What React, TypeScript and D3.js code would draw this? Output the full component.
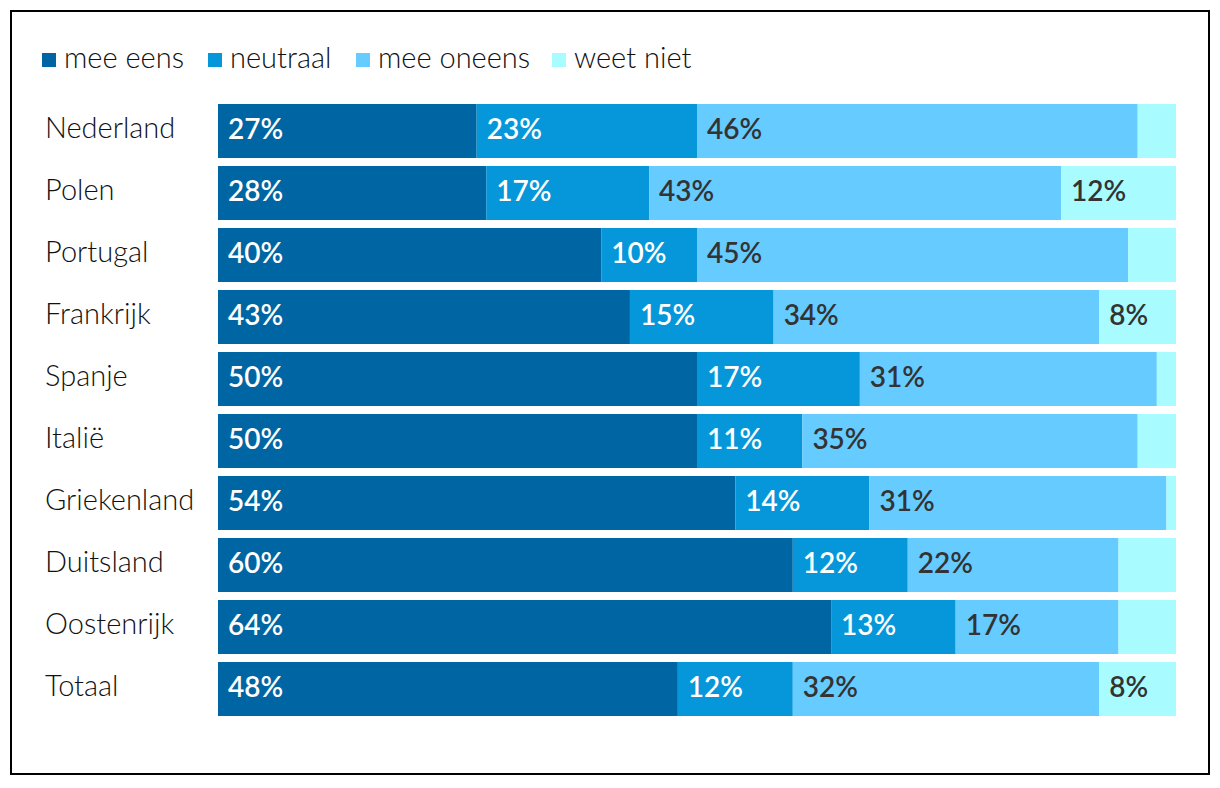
import React from "react";
import * as d3 from "d3";

const countries = ["Nederland","Polen","Portugal","Frankrijk","Spanje","Italië","Griekenland","Duitsland","Oostenrijk","Totaal"];
const meeEens = [27,28,40,43,50,50,54,60,64,48];
const neutraal = [23,17,10,15,17,11,14,12,13,12];
const meeOneens = [46,43,45,34,31,35,31,22,17,32];
const weetNiet = [4,12,5,8,2,4,1,6,6,8];
const seriesNames = ["mee eens","neutraal","mee oneens","weet niet"];
const colors = ["#0066a3","#0597d9","#66cbff","#a8fcff"];
const textColors = ["#ffffff","#ffffff","#333333","#333333"];

export default function App() {
  const W = 1220, H = 788;
  const x = d3.scaleLinear().domain([0, 100]).range([218, 1176]);
  const y = d3.scaleBand().domain(countries).range([104 - 4, 104 - 4 + 62 * countries.length]).paddingInner(8 / 62).paddingOuter(4 / 62);
  const seriesData = [meeEens, neutraal, meeOneens, weetNiet];
  const rows = countries.map((c, i) => ({ c, vals: seriesData.map(s => s[i]) }));
  const stack = d3.stack<any>().keys([0,1,2,3].map(String)).value((d: any, k: string) => d.vals[+k]);
  const stacked = stack(rows as any);
  const font = "Lato, 'Open Sans', sans-serif";
  const legendX = [42, 208, 356, 552];
  return (
    <svg width={W} height={H} style={{ position: "absolute", left: 0, top: 0 }}>
      <rect x={11} y={11} width={1198} height={763} fill="#fff" stroke="#000" strokeWidth={2} />
      {seriesNames.map((n, i) => (
        <g key={n}>
          <rect x={legendX[i]} y={53} width={14} height={14} fill={colors[i]} />
          <text x={legendX[i] + 22} y={68} fontFamily={font} fontSize={29} fontWeight={300} fill="#111">{n}</text>
        </g>
      ))}
      {countries.map(c => (
        <text key={c} x={45} y={(y(c) as number) + y.bandwidth() / 2 + 7} fontFamily={font} fontSize={29} fontWeight={300} fill="#111">{c}</text>
      ))}
      {stacked.map((layer, si) => (
        <g key={si}>
          {layer.map((d, i) => {
            const x0 = x(d[0]), x1 = x(d[1]);
            const yy = y(countries[i]) as number;
            const v = seriesData[si][i];
            return (
              <g key={i}>
                <rect x={x0} y={yy} width={x1 - x0} height={y.bandwidth()} fill={colors[si]} />
                {v >= 8 && (
                  <text x={x0 + 10} y={yy + y.bandwidth() / 2 + 8} fontFamily={font} fontSize={28} fontWeight={600} fill={textColors[si]}>{v}%</text>
                )}
              </g>
            );
          })}
        </g>
      ))}
    </svg>
  );
}
